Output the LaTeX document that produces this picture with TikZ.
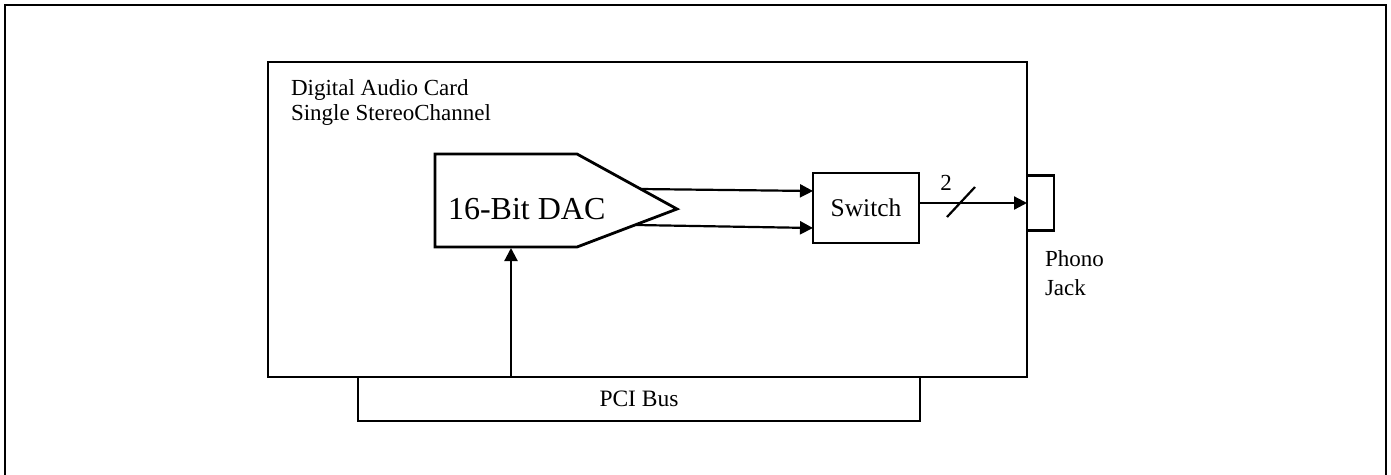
\documentclass[tikz,border=0pt]{standalone}
\usepackage{fontspec}
\setmainfont{Liberation Serif}
\usetikzlibrary{arrows.meta}
\tikzset{
  box/.style={draw, line width=2.8pt, inner sep=0pt, outer sep=0pt},
  conn/.style={line width=2.2pt, -{Triangle[length=13pt,width=13pt]}},
  lbl/.style={inner sep=0pt, outer sep=0pt},
}
\begin{document}
\begin{tikzpicture}[x=1pt,y=-1pt]
\useasboundingbox (0,0) rectangle (1391,474);
% outer frame (bottom edge lies beyond the page)
\draw[line width=2.8pt] (5,5) rectangle (1386,490);
% card
\node[box, anchor=north west, minimum width=759pt, minimum height=315pt] (card) at (268,62) {};
\node[lbl, anchor=base west, font=\fontsize{23}{25}\selectfont] (cardA) at (291,95) {Digital Audio Card};
\node[lbl, anchor=base west, font=\fontsize{23}{25}\selectfont] (cardB) at (291,120) {Single StereoChannel};
% PCI bus
\node[box, anchor=north west, minimum width=562pt, minimum height=44pt, font=\fontsize{23.5}{26}\selectfont] (pci) at (358,377) {PCI Bus};
% DAC
\draw[line width=2.8pt, line join=miter] (435,154) -- (577,154) -- (677,209) -- (577,247) -- (435,247) -- cycle;
\node[lbl, anchor=base west, font=\fontsize{32}{36}\selectfont] (dac) at (448,219) {16-Bit DAC};
\coordinate (dacbot) at (511,248);
\coordinate (d1) at (640,189);
\coordinate (d2) at (636,225);
% switch
\node[box, anchor=north west, minimum width=106pt, minimum height=70pt, font=\fontsize{25.5}{28}\selectfont] (switch) at (813,173) {Switch};
\coordinate (s1) at (813,191);
\coordinate (s2) at (813,228);
% jack
\node[box, anchor=north west, minimum width=27pt, minimum height=55pt] (jack) at (1027,175.5) {};
\node[lbl, anchor=base west, font=\fontsize{23}{29}\selectfont] (jackA) at (1045,266) {Phono};
\node[lbl, anchor=base west, font=\fontsize{23}{29}\selectfont] (jackB) at (1045,295) {Jack};
% connectors
\draw[conn] (dacbot |- pci.north) -- (dacbot);
\draw[conn] (d1) -- (s1);
\draw[conn] (d2) -- (s2);
\draw[conn] (switch.east |- jack.west) -- (jack.west);
\coordinate (sl1) at (947,217);
\coordinate (sl2) at (975,187);
\draw[line width=2.2pt] (sl1) -- (sl2);
\node[lbl, font=\fontsize{23}{25}\selectfont] (two) at (946,183) {2};
\end{tikzpicture}
\end{document}
